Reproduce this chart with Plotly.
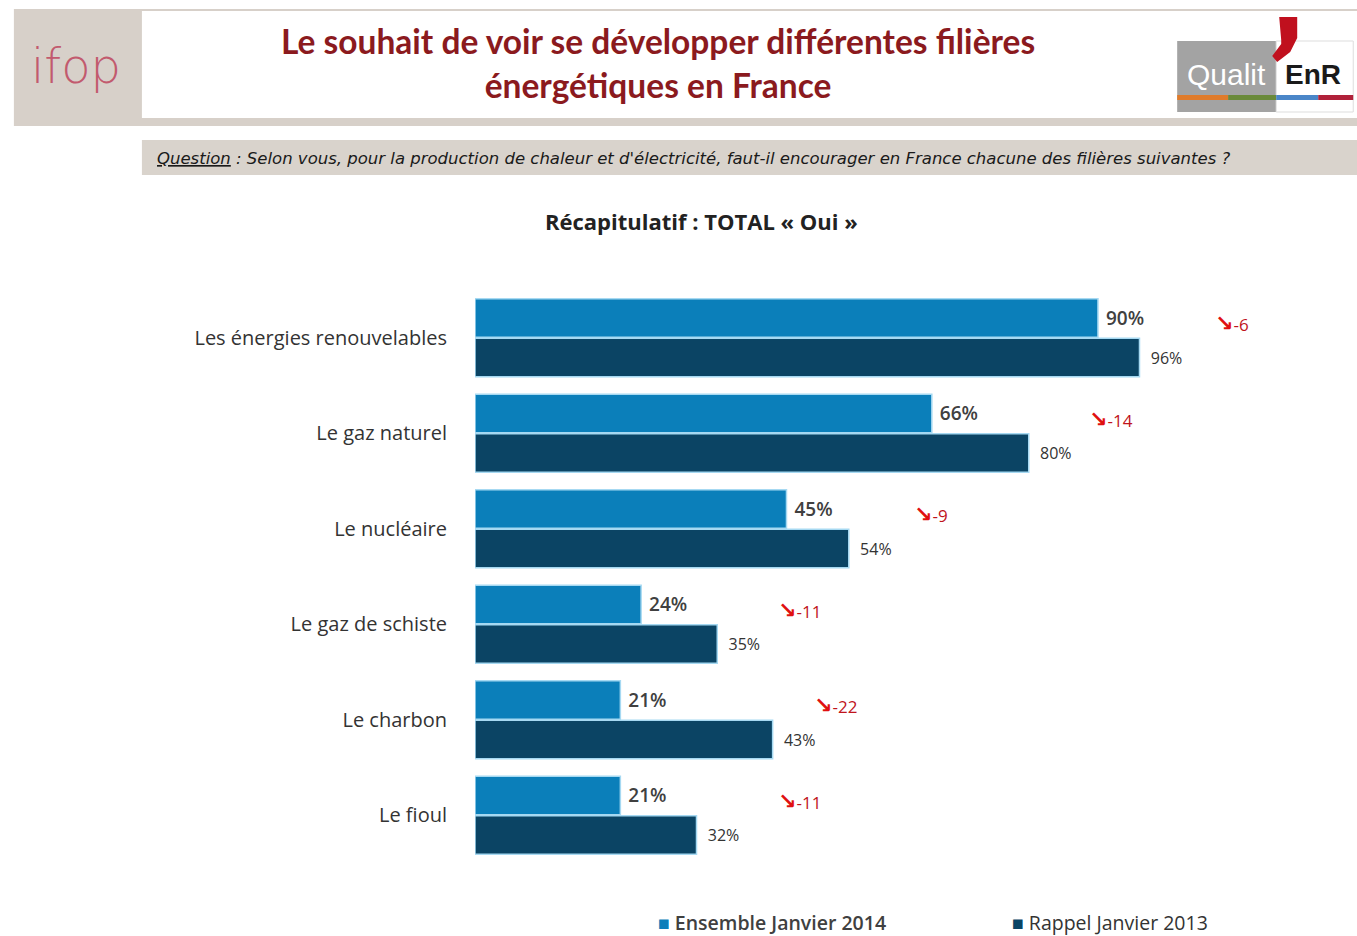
import plotly.graph_objects as go

categories = ["Les énergies renouvelables", "Le gaz naturel", "Le nucléaire",
              "Le gaz de schiste", "Le charbon", "Le fioul"]
values_2014 = [90, 66, 45, 24, 21, 21]
values_2013 = [96, 80, 54, 35, 43, 32]
deltas = [-6, -14, -9, -11, -22, -11]
series_names = ["Ensemble Janvier 2014", "Rappel Janvier 2013"]

W, H = 1357, 936
XMAX = 115
L, T, B = 475, 290, 73
PW = 6.92 * XMAX
R = W - L - PW
PH = H - T - B

def xp(px):
    return (px - L) / PW

def yp(py):
    return (H - B - py) / PH

C14 = "#0b7fba"
C13 = "#0b4464"
FONT = "Open Sans"

fig = go.Figure()
fig.add_trace(go.Bar(
    y=categories, x=values_2014, orientation="h", name=series_names[0],
    marker=dict(color=C14, line=dict(color="#a6d9f2", width=1.5)),
    text=[f" {v}%" for v in values_2014], textposition="outside",
    textfont=dict(family=FONT, size=19, color="#404040", weight=600),
    cliponaxis=False, showlegend=False,
))
fig.add_trace(go.Bar(
    y=categories, x=values_2013, orientation="h", name=series_names[1],
    marker=dict(color=C13, line=dict(color="#a6d9f2", width=1.5)),
    text=[f"  {v}%" for v in values_2013], textposition="outside",
    textfont=dict(family=FONT, size=16, color="#333333"),
    cliponaxis=False, showlegend=False,
))

def prect(x0, x1, y0, y1, fill, line=None):
    return dict(type="rect", xref="paper", yref="paper",
                x0=xp(x0), x1=xp(x1), y0=yp(y1), y1=yp(y0),
                fillcolor=fill, line=line or dict(width=0), layer="below")

shapes = []
shapes.append(prect(14, 1357, 9, 126, "#d7d0c9"))
shapes.append(prect(142, 1357, 11, 118, "#ffffff"))
shapes.append(prect(142, 1357, 140, 175, "#d9d3cc"))
# Qualit'EnR logo
shapes.append(prect(1177, 1276, 41, 112, "#a3a3a3"))
shapes.append(prect(1276, 1353, 41, 112, "#ffffff", dict(color="#dddddd", width=1)))
for (a, b_, col) in [(1177, 1228, "#e07b2a"), (1228, 1276, "#6a8a3a"),
                     (1276, 1318, "#4a86c8"), (1318, 1353, "#b0213a")]:
    shapes.append(prect(a, b_, 95, 100, col))
comma = [(1279, 17), (1297, 17), (1297, 38), (1290, 52), (1277, 62), (1272, 56), (1281, 44), (1281, 40)]
path = "M " + " L ".join(f"{xp(x):.5f},{yp(y):.5f}" for x, y in comma) + " Z"
shapes.append(dict(type="path", xref="paper", yref="paper", path=path,
                   fillcolor="#c0101e", line=dict(width=0)))

def pann(x, y, text, size, color, family=FONT, xanchor="center", weight=None, **kw):
    f = dict(family=family, size=size, color=color)
    if weight is not None:
        f["weight"] = weight
    return dict(xref="paper", yref="paper", x=xp(x), y=yp(y), text=text,
                showarrow=False, xanchor=xanchor, yanchor="middle", font=f, **kw)

annotations = []
annotations.append(pann(76, 66, "ifop", 48, "#c25a6e", family="DejaVu Sans", weight=200))
annotations.append(pann(1226, 74, "Qualit", 30, "#ffffff", family="Liberation Sans"))
annotations.append(pann(1313, 74, "<b>EnR</b>", 28, "#1a1a1a", family="Liberation Sans"))
annotations.append(pann(658, 63,
                        "<b>Le souhait de voir se développer différentes filières<br>énergétiques en France</b>",
                        33.5, "#8b1a1e", family="Lato", align="center"))
annotations.append(pann(155, 159,
                        "<i><u>Question</u> : Selon vous, pour la production de chaleur et d'électricité, faut-il encourager en France chacune des filières suivantes ?</i>",
                        16.5, "#1a1a1a", family="DejaVu Sans", xanchor="left"))
annotations.append(pann(701, 221, "<b>Récapitulatif : TOTAL « Oui »</b>", 22, "#222222"))

offsets = [10.6, 8.4, 9.2, 8.5, 5.7, 11.5]
for cat, v13, d, off in zip(categories, values_2013, deltas, offsets):
    annotations.append(dict(x=v13 + off, y=cat, xref="x", yref="y", xanchor="left",
                            yanchor="middle", yshift=14, showarrow=False,
                            text=f"<span style='font-family:DejaVu Sans;font-size:22px;font-weight:bold;color:#e01010'>↘</span>{d}",
                            font=dict(family=FONT, size=17, color="#c0141c")))

annotations.append(pann(656, 922, f"<span style='color:{C14}'>■</span> {series_names[0]}",
                        19.5, "#404040", xanchor="left", weight=600))
annotations.append(pann(1010, 922, f"<span style='color:{C13}'>■</span> {series_names[1]}",
                        19.5, "#333333", xanchor="left"))

fig.update_layout(
    width=W, height=H,
    margin=dict(l=L, r=R, t=T, b=B, pad=0),
    paper_bgcolor="#ffffff", plot_bgcolor="#ffffff",
    barmode="group", bargap=0.17, bargroupgap=0.03,
    xaxis=dict(range=[0, XMAX], showgrid=False, zeroline=False, showticklabels=False,
               showline=False, fixedrange=True),
    yaxis=dict(autorange="reversed", showgrid=False, zeroline=False, showline=False,
               ticks="", ticklabelstandoff=27,
               tickfont=dict(family=FONT, size=20, color="#333333")),
    shapes=shapes, annotations=annotations,
    showlegend=False,
)

fig.write_html("out.html", config={"displayModeBar": False},
               post_script="document.body.style.margin='0';")
